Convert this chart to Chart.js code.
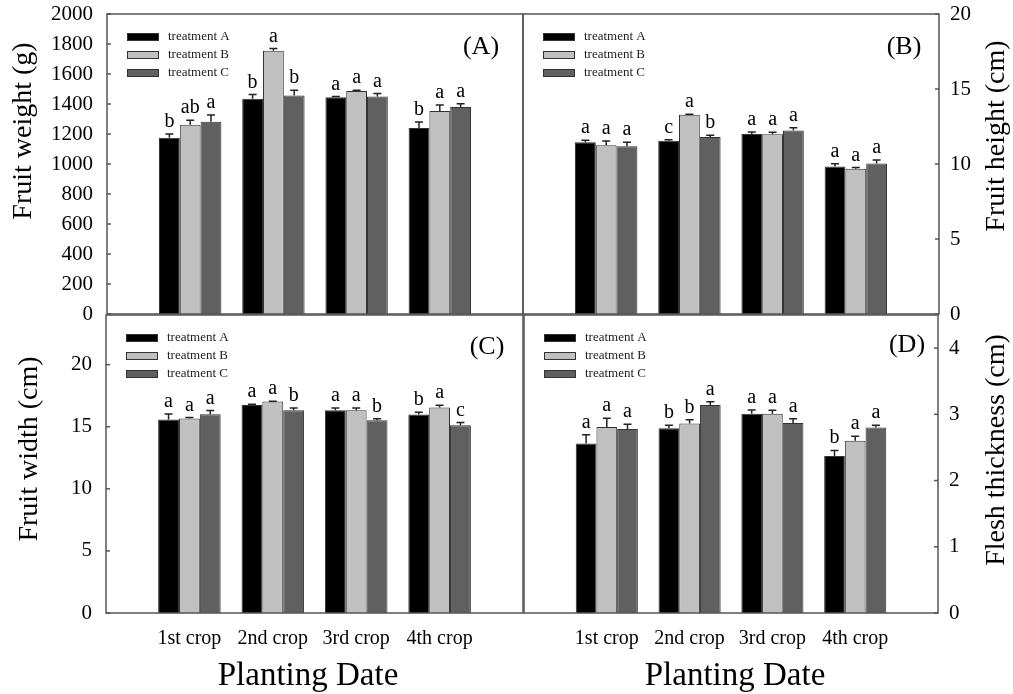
<!DOCTYPE html>
<html lang="en">
<head>
  <meta charset="UTF-8" />
  <title>Fruit traits by planting date</title>
  <script src="https://cdn.jsdelivr.net/npm/chart.js"></script>
  <style>
    body { margin: 0; background: #fff; }
    .wrap { position: relative; width: 1013px; height: 694px; }
    canvas { position: absolute; left: 0; top: 0; }
  </style>
</head>
<body>
  <div class="wrap">
    <canvas id="chartA" width="1013" height="694"></canvas>
    <canvas id="chartB" width="1013" height="694"></canvas>
    <canvas id="chartC" width="1013" height="694"></canvas>
    <canvas id="chartD" width="1013" height="694"></canvas>
  </div>

  <script>
    const crops = ['1st crop', '2nd crop', '3rd crop', '4th crop'];
    const treatments = ['treatment A', 'treatment B', 'treatment C'];
    const barColors = ['#000000', '#c0c0c0', '#606060'];

    // (A) fruit weight (g)
    const weightA = [1175, 1435, 1445, 1240];
    const weightB = [1262, 1755, 1487, 1353];
    const weightC = [1282, 1457, 1450, 1380];
    const weightErrA = [25, 28, 5, 40];
    const weightErrB = [30, 15, 4, 40];
    const weightErrC = [45, 35, 20, 22];
    const weightLetA = ['b', 'b', 'a', 'b'];
    const weightLetB = ['ab', 'a', 'a', 'a'];
    const weightLetC = ['a', 'b', 'a', 'a'];

    // (B) fruit height (cm)
    const heightA = [11.45, 11.55, 12.0, 9.84];
    const heightB = [11.25, 13.29, 11.98, 9.69];
    const heightC = [11.18, 11.8, 12.24, 10.04];
    const heightErrA = [0.13, 0.07, 0.13, 0.18];
    const heightErrB = [0.28, 0.03, 0.13, 0.07];
    const heightErrC = [0.27, 0.11, 0.18, 0.22];
    const heightLetA = ['a', 'c', 'a', 'a'];
    const heightLetB = ['a', 'a', 'a', 'a'];
    const heightLetC = ['a', 'b', 'a', 'a'];

    // (C) fruit width (cm)
    const widthA = [15.58, 16.76, 16.33, 15.98];
    const widthB = [15.66, 17.03, 16.33, 16.55];
    const widthC = [16.0, 16.33, 15.53, 15.12];
    const widthErrA = [0.45, 0.06, 0.18, 0.18];
    const widthErrB = [0.08, 0.03, 0.18, 0.18];
    const widthErrC = [0.3, 0.18, 0.12, 0.22];
    const widthLetA = ['a', 'a', 'a', 'b'];
    const widthLetB = ['a', 'a', 'a', 'a'];
    const widthLetC = ['a', 'b', 'b', 'c'];

    // (D) flesh thickness (cm)
    const fleshA = [2.56, 2.79, 3.01, 2.37];
    const fleshB = [2.81, 2.86, 3.01, 2.6];
    const fleshC = [2.78, 3.14, 2.87, 2.8];
    const fleshErrA = [0.13, 0.045, 0.055, 0.085];
    const fleshErrB = [0.13, 0.06, 0.05, 0.07];
    const fleshErrC = [0.07, 0.05, 0.065, 0.035];
    const fleshLetA = ['a', 'b', 'a', 'b'];
    const fleshLetB = ['a', 'b', 'a', 'a'];
    const fleshLetC = ['a', 'a', 'a', 'a'];

    const serif = "'Liberation Serif', 'Times New Roman', serif";
    const frameColor = '#555';

    // frame, inward ticks, error bars, letters, legend and titles
    function makeDecor(p) {
      return {
        id: 'decor',
        afterDatasetsDraw(chart) {
          const ctx = chart.ctx;
          const a = chart.chartArea;
          const ys = chart.scales.y;
          ctx.save();

          // error bars + letters
          p.values.forEach((vals, i) => {
            const meta = chart.getDatasetMeta(i);
            vals.forEach((v, j) => {
              const bar = meta.data[j + 1];
              const top = ys.getPixelForValue(v + p.errors[i][j]);
              ctx.strokeStyle = '#222';
              ctx.lineWidth = 1.5;
              ctx.beginPath();
              ctx.moveTo(bar.x, bar.y);
              ctx.lineTo(bar.x, top);
              ctx.moveTo(bar.x - 4, top);
              ctx.lineTo(bar.x + 4, top);
              ctx.stroke();
              ctx.fillStyle = '#000';
              ctx.font = '20px ' + serif;
              ctx.textAlign = 'center';
              ctx.textBaseline = 'alphabetic';
              ctx.fillText(p.letters[i][j], bar.x, top - 7);
            });
          });

          // frame
          ctx.strokeStyle = frameColor;
          ctx.lineWidth = 1.5;
          ctx.strokeRect(a.left, a.top, a.right - a.left, a.bottom - a.top);

          // inward y ticks
          ys.ticks.forEach(t => {
            const y = ys.getPixelForValue(t.value);
            const x0 = p.yPos === 'left' ? a.left : a.right;
            const dir = p.yPos === 'left' ? 1 : -1;
            ctx.beginPath();
            ctx.moveTo(x0, y);
            ctx.lineTo(x0 + dir * 4, y);
            ctx.stroke();
          });

          // legend
          ctx.font = '13px ' + serif;
          ctx.textAlign = 'left';
          ctx.textBaseline = 'middle';
          treatments.forEach((name, i) => {
            const x = a.left + 20;
            const y = a.top + 23 + i * 18;
            ctx.fillStyle = barColors[i];
            ctx.fillRect(x, y - 4, 32, 8);
            ctx.strokeStyle = '#333';
            ctx.lineWidth = 1;
            ctx.strokeRect(x + 0.5, y - 3.5, 31, 7);
            ctx.fillStyle = '#222';
            ctx.fillText(name, x + 41, y);
          });

          // panel label
          ctx.fillStyle = '#000';
          ctx.font = '26px ' + serif;
          ctx.textAlign = 'center';
          ctx.textBaseline = 'middle';
          ctx.fillText(p.tag, p.tagPos[0], p.tagPos[1]);

          // y title, rotated bottom-to-top
          ctx.save();
          ctx.translate(p.titlePos[0], p.titlePos[1]);
          ctx.rotate(-Math.PI / 2);
          ctx.font = '28px ' + serif;
          ctx.fillText(p.title, 0, 0);
          ctx.restore();

          if (p.showX) {
            ctx.font = '33px ' + serif;
            ctx.textBaseline = 'alphabetic';
            ctx.fillText('Planting Date', p.xTitlePos[0], p.xTitlePos[1]);
          }
          ctx.restore();
        }
      };
    }

    function panelChart(id, p) {
      const labels = [''].concat(crops, ['']);
      const datasets = p.values.map((vals, i) => ({
        label: treatments[i],
        data: [null].concat(vals, [null]),
        backgroundColor: barColors[i],
        borderColor: '#333',
        borderWidth: 1,
        categoryPercentage: 0.75,
        barPercentage: 1.0
      }));

      return new Chart(document.getElementById(id), {
        type: 'bar',
        data: { labels: labels, datasets: datasets },
        plugins: [makeDecor(p)],
        options: {
          responsive: false,
          animation: false,
          layout: { padding: p.padding },
          plugins: { legend: { display: false }, tooltip: { enabled: false } },
          scales: {
            x: {
              offset: false,
              grid: { display: false, drawTicks: false },
              border: { display: false },
              ticks: {
                display: p.showX,
                autoSkip: false,
                maxRotation: 0,
                padding: 14,
                color: '#000',
                font: { family: serif, size: 20 }
              },
              afterFit: s => { s.height = p.showX ? 40 : 0; s.paddingLeft = 0; s.paddingRight = 0; }
            },
            y: {
              position: p.yPos,
              min: 0,
              max: p.max,
              grid: { display: false, drawTicks: false },
              border: { display: false },
              ticks: {
                stepSize: p.step,
                padding: p.yPos === 'left' ? 14 : 11,
                color: '#000',
                font: { family: serif, size: 21 },
                callback: v => String(v)
              },
              afterBuildTicks: s => { s.ticks = s.ticks.filter(t => Math.abs(t.value / p.step - Math.round(t.value / p.step)) < 1e-6); },
              afterFit: s => { s.width = p.yWidth; s.paddingTop = 0; s.paddingBottom = 0; }
            }
          }
        }
      });
    }

    panelChart('chartA', {
      values: [weightA, weightB, weightC],
      errors: [weightErrA, weightErrB, weightErrC],
      letters: [weightLetA, weightLetB, weightLetC],
      max: 2000, step: 200, yPos: 'left', yWidth: 107, showX: false,
      padding: { left: 0, top: 14, right: 490, bottom: 380 },
      tag: '(A)', tagPos: [481, 47],
      title: 'Fruit weight (g)', titlePos: [24, 131]
    });

    panelChart('chartB', {
      values: [heightA, heightB, heightC],
      errors: [heightErrA, heightErrB, heightErrC],
      letters: [heightLetA, heightLetB, heightLetC],
      max: 20, step: 5, yPos: 'right', yWidth: 74, showX: false,
      padding: { left: 523, top: 14, right: 0, bottom: 380 },
      tag: '(B)', tagPos: [904, 47],
      title: 'Fruit height (cm)', titlePos: [997, 136]
    });

    panelChart('chartC', {
      values: [widthA, widthB, widthC],
      errors: [widthErrA, widthErrB, widthErrC],
      letters: [widthLetA, widthLetB, widthLetC],
      max: 24, step: 5, yPos: 'left', yWidth: 106, showX: true,
      padding: { left: 0, top: 315, right: 490, bottom: 41 },
      tag: '(C)', tagPos: [487, 347],
      title: 'Fruit width (cm)', titlePos: [30, 449],
      xTitlePos: [308, 685]
    });

    panelChart('chartD', {
      values: [fleshA, fleshB, fleshC],
      errors: [fleshErrA, fleshErrB, fleshErrC],
      letters: [fleshLetA, fleshLetB, fleshLetC],
      max: 4.5, step: 1, yPos: 'right', yWidth: 75, showX: true,
      padding: { left: 524, top: 315, right: 0, bottom: 41 },
      tag: '(D)', tagPos: [907, 345],
      title: 'Flesh thickness (cm)', titlePos: [997, 450],
      xTitlePos: [735, 685]
    });
  </script>
</body>
</html>
